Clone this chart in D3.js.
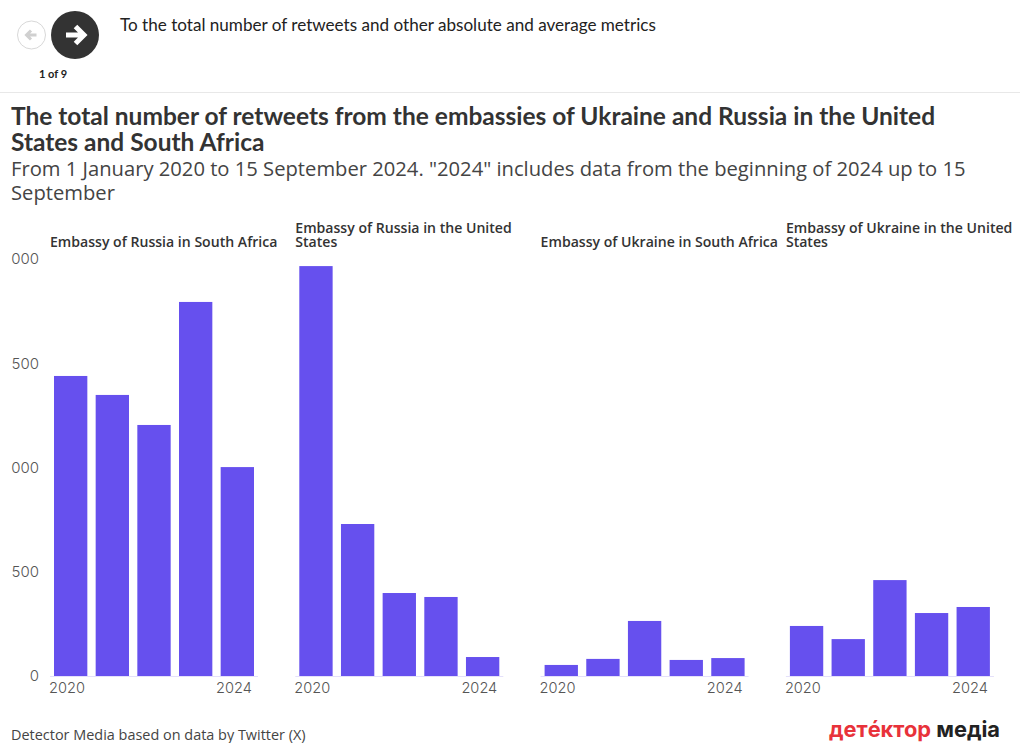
<!DOCTYPE html>
<html>
<head>
<meta charset="utf-8">
<script src="https://cdn.jsdelivr.net/npm/d3@7"></script>
<style>
html, body { margin: 0; padding: 0; background: #fff; overflow: hidden; }
text { font-family: "Open Sans", sans-serif; }
</style>
</head>
<body>
<svg id="svg"></svg>
<script>
var years = ["2020", "2021", "2022", "2023", "2024"];
var panelNames = [
  ["Embassy of Russia in South Africa"],
  ["Embassy of Russia in the United", "States"],
  ["Embassy of Ukraine in South Africa"],
  ["Embassy of Ukraine in the United", "States"]
];
var russiaSA = [1439, 1348, 1204, 1794, 1002];
var russiaUS = [1966, 729, 398, 379, 91];
var ukraineSA = [53, 82, 264, 77, 86];
var ukraineUS = [240, 177, 460, 302, 331];
var panelValues = [russiaSA, russiaUS, ukraineSA, ukraineUS];
var yTicks = [0, 500, 1000, 1500, 2000];
var titleLines = ["The total number of retweets from the embassies of Ukraine and Russia in the United", "States and South Africa"];
var subtitleLines = ["From 1 January 2020 to 15 September 2024. \"2024\" includes data from the beginning of 2024 up to 15", "September"];

var width = 1020, height = 743;
var barColor = "#6650ee";
var tickFont = "'Inter',sans-serif";

var svg = d3.select("#svg").attr("width", width).attr("height", height);

// header with the step buttons
svg.append("circle").attr("cx", 31.5).attr("cy", 35).attr("r", 14)
  .attr("fill", "#fff").attr("stroke", "#d8d8d8");
svg.append("path").attr("d", "M36.5 35H27M31 30.5L26.5 35L31 39.5")
  .attr("fill", "none").attr("stroke", "#d0d0d0").attr("stroke-width", 3);
svg.append("circle").attr("cx", 75).attr("cy", 35).attr("r", 24).attr("fill", "#333");
svg.append("path").attr("d", "M66 35H82M75.5 26.5L84 35L75.5 43.5")
  .attr("fill", "none").attr("stroke", "#fff").attr("stroke-width", 5);
svg.append("text").attr("x", 53).attr("y", 78).attr("text-anchor", "middle")
  .attr("font-size", 11).attr("font-weight", 700).attr("fill", "#222").style("font-family", "Lato,sans-serif").text("1 of 9");
svg.append("text").attr("x", 120).attr("y", 31).attr("font-size", 17.1).attr("fill", "#222")
  .style("font-family", "Lato,sans-serif")
  .text("To the total number of retweets and other absolute and average metrics");
svg.append("line").attr("x1", 0).attr("x2", width).attr("y1", 92.5).attr("y2", 92.5).attr("stroke", "#e8e8e8");

// title block
svg.selectAll(".title").data(titleLines).join("text").attr("class", "title")
  .attr("x", 11).attr("y", function(d, i) { return 125 + i * 26; })
  .attr("font-size", 24.5).attr("font-weight", 700).attr("fill", "#333")
  .style("font-family", "Lato,sans-serif").text(function(d) { return d; });
svg.selectAll(".subtitle").data(subtitleLines).join("text").attr("class", "subtitle")
  .attr("x", 11).attr("y", function(d, i) { return 176 + i * 24; })
  .attr("font-size", 20.2).attr("fill", "#444").text(function(d) { return d; });

var y_scale = d3.scaleLinear().domain([0, 2000]).range([676, 259]);

// the left labels are cut off at the chart edge
svg.append("clipPath").attr("id", "leftClip").append("rect")
  .attr("x", 11).attr("y", 230).attr("width", 60).attr("height", 470);

var yAxis = svg.append("g").attr("clip-path", "url(#leftClip)")
  .append("g").attr("transform", "translate(39,0)")
  .call(d3.axisLeft(y_scale).tickValues(yTicks).tickSize(0).tickPadding(0).tickFormat(d3.format("d")));
yAxis.select(".domain").remove();
yAxis.selectAll("text").attr("font-size", 15).attr("fill", "#555")
  .style("font-family", tickFont).attr("font-weight", 300);

panelValues.forEach(function(values, p) {
  var left = 54 + p * 245.3;
  var x_scale = d3.scaleBand().domain(years).range([left, left + 200]).paddingInner(0.2);
  var g = svg.append("g");

  g.append("line").attr("x1", left - 4).attr("x2", left + 204)
    .attr("y1", y_scale(0) + 0.5).attr("y2", y_scale(0) + 0.5).attr("stroke", "#e4e0fa");

  g.selectAll("rect").data(values).join("rect")
    .attr("x", function(d, i) { return x_scale(years[i]); })
    .attr("width", x_scale.bandwidth())
    .attr("y", function(d) { return y_scale(d); })
    .attr("height", function(d) { return y_scale(0) - y_scale(d); })
    .attr("fill", barColor);

  g.append("text").attr("x", x_scale("2020") - 5).attr("y", 693)
    .attr("font-size", 14.6).attr("font-weight", 300).attr("fill", "#555")
    .style("font-family", tickFont).text("2020");
  g.append("text").attr("x", x_scale("2024") + x_scale.bandwidth() - 2).attr("y", 693)
    .attr("text-anchor", "end").attr("font-size", 14.6).attr("font-weight", 300).attr("fill", "#555")
    .style("font-family", tickFont).text("2024");

  var names = panelNames[p];
  g.selectAll(".panelName").data(names).join("text").attr("class", "panelName")
    .attr("x", left - 4).attr("y", function(d, i) { return names.length == 1 ? 247 : 233 + i * 14; })
    .attr("font-size", 14.08).attr("font-weight", 600).attr("fill", "#333").text(function(d) { return d; });
});

// footer
svg.append("text").attr("x", 11).attr("y", 740).attr("font-size", 14.45).attr("fill", "#444")
  .text("Detector Media based on data by Twitter (X)");
var logo = svg.append("text").attr("x", 1000).attr("y", 737).attr("text-anchor", "end")
  .attr("font-size", 21.8).attr("font-weight", 700).style("font-family", tickFont);
logo.append("tspan").attr("fill", "#e8323a").text("детéктор");
logo.append("tspan").attr("fill", "#222").text(" медіа");
</script>
</body>
</html>
